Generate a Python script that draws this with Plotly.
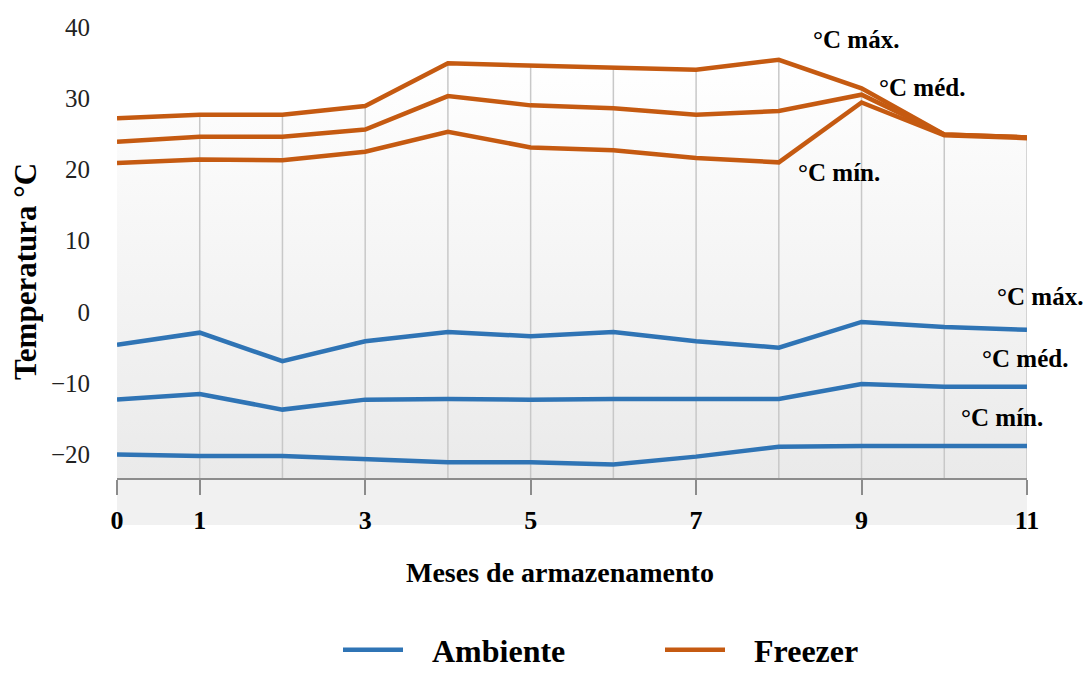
import plotly.graph_objects as go

months = list(range(12))
freezer_max = [27.2, 27.7, 27.7, 28.9, 34.9, 34.6, 34.3, 34.0, 35.4, 31.4, 24.9, 24.5]
freezer_med = [23.9, 24.6, 24.6, 25.6, 30.3, 29.0, 28.6, 27.7, 28.2, 30.5, 24.9, 24.5]
freezer_min = [20.9, 21.4, 21.3, 22.5, 25.3, 23.1, 22.7, 21.6, 21.0, 29.4, 24.8, 24.4]
amb_max = [-4.6, -2.9, -6.9, -4.1, -2.8, -3.4, -2.8, -4.1, -5.0, -1.4, -2.1, -2.5]
amb_med = [-12.3, -11.5, -13.7, -12.3, -12.2, -12.3, -12.2, -12.2, -12.2, -10.1, -10.5, -10.5]
amb_min = [-20.0, -20.2, -20.2, -20.7, -21.1, -21.1, -21.4, -20.3, -18.9, -18.8, -18.8, -18.8]
x_ticks = [0, 1, 3, 5, 7, 9, 11]
y_ticks = [-20, -10, 0, 10, 20, 30, 40]

BLUE = "#2f74b5"
ORANGE = "#c55a11"
FONT = "Liberation Serif"
Y_MIN, Y_MAX = -23.3, 40

# figure geometry (page is offset 8px by body margin)
W, H = 1083, 665
L, R, T, B = 109, 64, 19, 195
PW, PH = W - L - R, H - T - B


def px(xp):  # page x pixel -> paper fraction
    return (xp - 8 - L) / PW


def py(yp):  # page y pixel -> paper fraction
    return 1 - (yp - 8 - T) / PH


fig = go.Figure()

# background gradient under top line
fig.add_trace(go.Scatter(x=months, y=[Y_MIN] * len(months), mode="lines",
                         line=dict(width=0), showlegend=False, hoverinfo="skip"))
fig.add_trace(go.Scatter(x=months, y=freezer_max, mode="lines", line=dict(width=0),
                         fill="tonexty",
                         fillgradient=dict(type="vertical",
                                           colorscale=[[0, "#eaeaea"], [1, "#ffffff"]]),
                         showlegend=False, hoverinfo="skip"))

# vertical grid lines from the top line down
gx, gy = [], []
for m in months[1:]:
    gx += [m, m, None]
    gy += [freezer_max[m], Y_MIN, None]
fig.add_trace(go.Scatter(x=gx, y=gy, mode="lines", line=dict(color="#c8c8c8", width=1.5),
                         showlegend=False, hoverinfo="skip"))

for name, ys, color, show in [
    ("Ambiente", amb_max, BLUE, True), ("Ambiente", amb_med, BLUE, False),
    ("Ambiente", amb_min, BLUE, False),
    ("Freezer", freezer_max, ORANGE, True), ("Freezer", freezer_med, ORANGE, False),
    ("Freezer", freezer_min, ORANGE, False)]:
    fig.add_trace(go.Scatter(x=months, y=ys, mode="lines",
                             name="\u00a0\u00a0\u00a0<b>" + name + "</b>",
                             legendgroup=name, showlegend=show,
                             line=dict(color=color, width=4.5)))

labels = [
    ("°C máx.", 856, 40), ("°C méd.", 922, 87), ("°C mín.", 839, 172),
    ("°C máx.", 1040, 296), ("°C méd.", 1025, 358), ("°C mín.", 1002, 417),
]
for t, x, y in labels:
    fig.add_annotation(x=px(x), y=py(y), xref="paper", yref="paper",
                       xanchor="center", yanchor="middle",
                       text="<b>" + t + "</b>", showarrow=False,
                       font=dict(family=FONT, size=25, color="black"))

# axis titles
fig.add_annotation(x=px(560), y=py(572), xref="paper", yref="paper",
                   xanchor="center", yanchor="middle",
                   text="<b>Meses de armazenamento</b>", showarrow=False,
                   font=dict(family=FONT, size=28, color="black"))
fig.add_annotation(x=px(25), y=py(272), xref="paper", yref="paper", textangle=-90,
                   xanchor="center", yanchor="middle",
                   text="<b>Temperatura °C</b>", showarrow=False,
                   font=dict(family=FONT, size=31, color="black"))

# gray band under the axis
fig.add_shape(type="rect", xref="paper", yref="paper", x0=0, x1=1, y0=py(525), y1=0,
              fillcolor="#f1f1f1", line=dict(width=0), layer="below")

fig.update_layout(
    width=W, height=H,
    margin=dict(l=L, r=R, t=T, b=B, autoexpand=False),
    paper_bgcolor="white", plot_bgcolor="white",
    font=dict(family=FONT, color="black"),
    xaxis=dict(range=[0, 11], tickmode="array", tickvals=x_ticks,
               ticktext=["<b>%d</b>" % v for v in x_ticks],
               tickfont=dict(size=26, color="black"), automargin=False,
               showgrid=False, zeroline=False, showline=True, linecolor="#8c8c8c",
               linewidth=2, ticks="outside", ticklen=15, tickcolor="#8c8c8c", tickwidth=2,
               ticklabelstandoff=3),
    yaxis=dict(range=[Y_MIN, Y_MAX], tickmode="array", tickvals=y_ticks,
               tickfont=dict(size=25, color="#222"), automargin=False,
               showgrid=False, zeroline=False, showline=False, ticks="",
               ticklabelstandoff=26),
    legend=dict(orientation="h", x=px(338), xanchor="left", y=py(650), yanchor="middle",
                font=dict(size=32, family=FONT), itemwidth=60, tracegroupgap=0,
                entrywidth=247),
)

fig.write_html("out.html")
